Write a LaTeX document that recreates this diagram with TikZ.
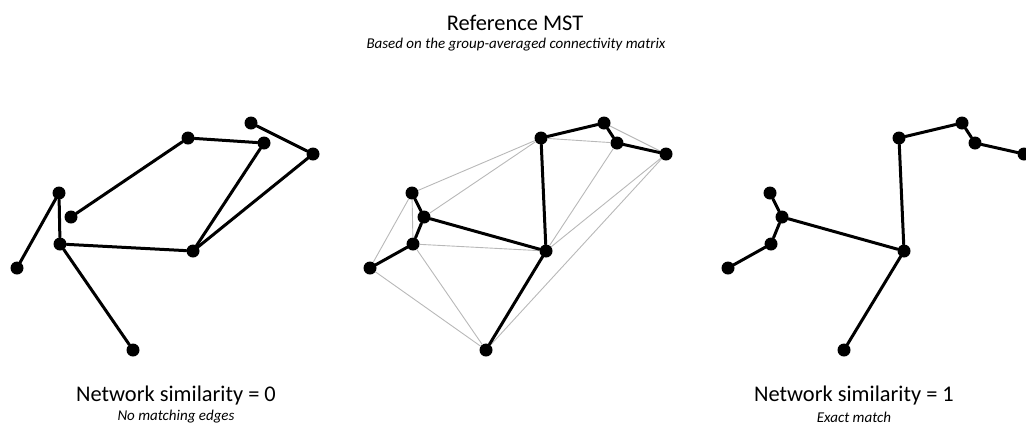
\documentclass[tikz,border=0pt]{standalone}
\usepackage{fontspec}
\setmainfont{Carlito}

\tikzset{
  dot/.style={circle, fill=black, inner sep=0pt, minimum size=13pt},
  tree/.style={line width=3pt, line cap=round},
  link/.style={line width=0.9pt, draw=black!28},
  heading/.style={font=\fontsize{22.4}{26}\selectfont, inner sep=0pt},
  note/.style={font=\fontsize{15}{18}\selectfont\itshape, inner sep=0pt},
}

% vertex layout shared by all three networks
\newcommand\placevertices[1]{%
  \foreach \n/\px/\py in {A/541/138, B/604/123, C/617/143, D/666/154,
                          E/412/193, F/424/217, G/413/244, H/370/268,
                          I/546/251, J/486/350}
    \node[dot] (#1\n) at (\px,\py) {};
}

\begin{document}
\begin{tikzpicture}[x=1pt, y=-1pt]
  \useasboundingbox (0,0) rectangle (1026,424);

  % headings
  \node[heading] (title) at (515,23) {Reference MST};
  \node[note] (subtitle) at (516,45) {Based on the group-averaged connectivity matrix};

  % left: network with no edges in common with the reference tree
  \begin{scope}[xshift=-353pt]
    \placevertices{l}
  \end{scope}
  \foreach \a/\b in {B/D, A/C, A/F, C/I, D/I, E/G, E/H, G/I, G/J}
    \draw[tree] (l\a) -- (l\b);

  % middle: reference tree on top of the full set of candidate links
  \placevertices{m}
  \foreach \a/\b in {E/A, F/A, E/H, E/G, A/C, B/D, C/I, D/I, D/J, G/I, G/J, H/J}
    \draw[link] (m\a) -- (m\b);
  \foreach \a/\b in {A/B, B/C, C/D, A/I, E/F, F/G, G/H, F/I, I/J}
    \draw[tree] (m\a) -- (m\b);

  % right: network identical to the reference tree
  \begin{scope}[xshift=358pt]
    \placevertices{r}
  \end{scope}
  \foreach \a/\b in {A/B, B/C, C/D, A/I, E/F, F/G, G/H, F/I, I/J}
    \draw[tree] (r\a) -- (r\b);

  % captions
  \node[heading] (leftcap) at (176,396) {Network similarity = 0};
  \node[note] (leftsub) at (176,417) {No matching edges};
  \node[heading] (rightcap) at (854,396) {Network similarity = 1};
  \node[note] (rightsub) at (854,417) {Exact match};
\end{tikzpicture}
\end{document}
